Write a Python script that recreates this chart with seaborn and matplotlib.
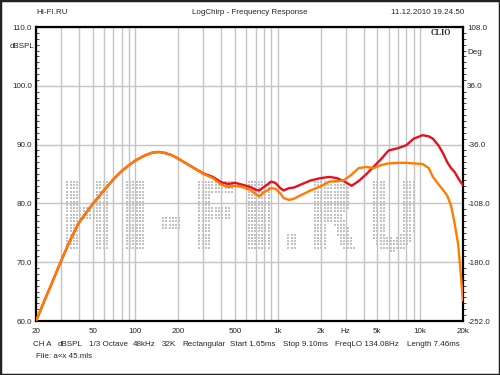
import numpy as np
import pandas as pd
import matplotlib
matplotlib.use('Agg')
import matplotlib.pyplot as plt
import seaborn as sns
from matplotlib.textpath import TextPath
from matplotlib.font_manager import FontProperties
from matplotlib.transforms import Affine2D
from matplotlib.patches import Rectangle
from matplotlib.ticker import MultipleLocator, NullFormatter

# frequency response (Hz, dBSPL)
freq = [20, 22.5, 25, 30, 35, 40, 45, 50, 60, 70, 80, 90, 100, 115, 130, 145, 160, 180,
        200, 250, 300, 350, 400, 450, 500, 560, 640, 700, 740, 800, 900, 960,
        1040, 1100, 1200, 1300, 1450, 1700, 2000, 2300, 2600, 2900, 3300, 3700,
        4200, 4700, 5300, 6000, 7000, 8000, 9000, 10400, 11500, 12300, 13500,
        14500, 15500, 16500, 17500, 18500, 19300, 20000]
red_db = [60.0, 63.0, 65.6, 70.2, 73.9, 76.7, 78.4, 79.9, 82.2, 84.1, 85.5, 86.5, 87.3, 88.1,
          88.6, 88.75, 88.6, 88.2, 87.6, 86.2, 85.1, 84.5, 83.6, 83.3, 83.5, 83.2,
          82.8, 82.3, 82.2, 82.8, 83.7, 83.5, 82.6, 82.2, 82.6, 82.7, 83.2, 83.9,
          84.3, 84.5, 84.3, 83.8, 83.0, 83.8, 85.0, 86.2, 87.5, 89.0, 89.4, 89.9,
          91.0, 91.6, 91.4, 91.0, 89.8, 88.5, 87.0, 86.0, 85.3, 84.3, 83.6, 83.1]
orange_db = [60.0, 63.0, 65.6, 70.2, 73.9, 76.7, 78.4, 79.9, 82.2, 84.1, 85.5, 86.5, 87.3, 88.1,
             88.6, 88.75, 88.6, 88.2, 87.6, 86.2, 85.0, 84.3, 83.2, 82.8, 83.0, 82.8,
             82.3, 81.6, 81.2, 81.9, 82.6, 82.5, 81.7, 80.9, 80.6, 80.8, 81.4, 82.2,
             82.9, 83.7, 83.8, 83.9, 84.9, 86.0, 86.2, 86.0, 86.5, 86.8, 86.9, 86.9,
             86.8, 86.7, 86.0, 84.5, 83.2, 82.3, 81.3, 79.6, 76.5, 73.0, 68.0, 63.5]

grid_freqs = [20, 30, 40, 50, 60, 70, 80, 90, 100, 200, 300, 400, 500, 600, 700,
              800, 900, 1000, 2000, 3000, 4000, 5000, 6000, 7000, 8000, 9000,
              10000, 20000]
x_labels = {20: '20', 50: '50', 100: '100', 200: '200', 500: '500', 1000: '1k',
            2000: '2k', 3000: 'Hz', 5000: '5k', 10000: '10k', 20000: '20k'}
left_ticks = [60, 70, 80, 90, 100, 110]
right_ticks = [-252, -180, -108, -36, 36, 108]

info_items = ['CH A', 'dBSPL', '1/3 Octave', '48kHz', '32K', 'Rectangular',
              'Start 1.65ms', 'Stop 9.10ms', 'FreqLO 134.08Hz', 'Length 7.46ms']
info_x = [33, 58, 89, 133, 162, 182, 230, 283, 335, 407]

FS = 5.8
sns.set_style('white')
plt.rcParams['font.family'] = ['Liberation Sans', 'DejaVu Sans']
plt.rcParams['font.size'] = FS

df = pd.DataFrame({'freq': freq, 'red': red_db, 'orange': orange_db})

fig = plt.figure(figsize=(5, 3.75), dpi=100)
ax = fig.add_axes([36 / 500, 54 / 375, 427 / 500, 294 / 375])

ax.set_xscale('log')
ax.set_xlim(20, 20000)
ax.set_ylim(60, 110)
ax.set_xticks(grid_freqs)
ax.set_xticklabels([x_labels.get(f, '') for f in grid_freqs], fontsize=FS)
ax.xaxis.set_minor_formatter(NullFormatter())
ax.tick_params(axis='x', which='both', length=0, pad=5)
ax.set_yticks(left_ticks)
ax.set_yticklabels(['%.1f' % v for v in left_ticks], fontsize=FS)
ax.yaxis.set_minor_locator(MultipleLocator(1))
ax.tick_params(axis='y', which='major', length=0, pad=3)
ax.tick_params(axis='y', which='minor', length=2, direction='in', width=0.6)
ax.grid(True, which='major', color='#c4c4c4', lw=1)
ax.set_axisbelow(True)

# dotted watermark, each letter stretched into its own slot (pixels)
wm_font = FontProperties(family='DejaVu Sans', weight='bold')
wm_widths = {'H': 44, 'I': 22, '-': 22, 'F': 36, '.': 12, 'R': 44, 'U': 44}
wm_text = 'HI-FI.RU'
total = sum(wm_widths[c] for c in wm_text)
gap = (350 - total) / (len(wm_text) - 1)
gx, gy = np.meshgrid(np.arange(64, 418, 3.3), np.arange(124, 198, 3.3))
pts = np.column_stack([gx.ravel(), gy.ravel()])
inside = np.zeros(len(pts), dtype=bool)
x_left = 65
for ch in wm_text:
    tp = TextPath((0, 0), ch, size=96, prop=wm_font)
    bb = tp.get_extents()
    w = wm_widths[ch]
    tr = Affine2D().translate(-bb.x0, 0).scale(w / bb.width, 1.0).translate(x_left, 125)
    inside |= tr.transform_path(tp).contains_points(pts)
    x_left += w + gap
dots = pts[inside] / 100.0
ax.scatter(dots[:, 0], dots[:, 1], s=3.4, marker='s', color='#c2c2c2', lw=0,
           transform=fig.dpi_scale_trans, zorder=1.6, clip_on=False)

sns.lineplot(data=df, x='freq', y='red', color='#e8101c', lw=1.7, ax=ax, zorder=3)
sns.lineplot(data=df, x='freq', y='orange', color='#ff7c00', lw=1.7, ax=ax, zorder=4)
ax.set_xlabel('')
ax.set_ylabel('')

for s in ax.spines.values():
    s.set_color('black')
    s.set_linewidth(1.6)

ax2 = ax.twinx()
ax2.set_ylim(-252, 108)
ax2.set_yticks(right_ticks)
ax2.set_yticklabels(['%.1f' % v for v in right_ticks], fontsize=FS)
ax2.yaxis.set_minor_locator(MultipleLocator(7.2))
ax2.tick_params(axis='y', which='major', length=0, pad=3)
ax2.tick_params(axis='y', which='minor', length=2, direction='out', width=0.6)
for s in ax2.spines.values():
    s.set_visible(False)

# labels and headers
fig.text(22 / 500, 1 - 47 / 375, 'dBSPL', ha='center', va='center', fontsize=FS)
fig.text(467 / 500, 1 - 52 / 375, 'Deg', ha='left', va='center', fontsize=FS)
fig.text(441 / 500, 1 - 33 / 375, 'CLIO', ha='center', va='center', fontsize=FS,
         fontweight='bold', family='Liberation Serif')
fig.text(36 / 500, 1 - 13 / 375, 'HI-FI.RU', ha='left', va='center', fontsize=FS)
fig.text(250 / 500, 1 - 13 / 375, 'LogChirp - Frequency Response', ha='center',
         va='center', fontsize=FS)
fig.text(464 / 500, 1 - 13 / 375, '11.12.2010 19.24.50', ha='right', va='center',
         fontsize=FS)
for x, t in zip(info_x, info_items):
    fig.text(x / 500, 1 - 344 / 375, t, ha='left', va='center', fontsize=FS)
fig.text(36 / 500, 1 - 357 / 375, 'File: a«x 45.mls', ha='left', va='center',
         fontsize=FS)

fig.patches.append(Rectangle((0, 0), 1, 1, transform=fig.transFigure, fill=False,
                             edgecolor='#222222', lw=2.5, zorder=10))

fig.savefig('out.png', dpi=100)
